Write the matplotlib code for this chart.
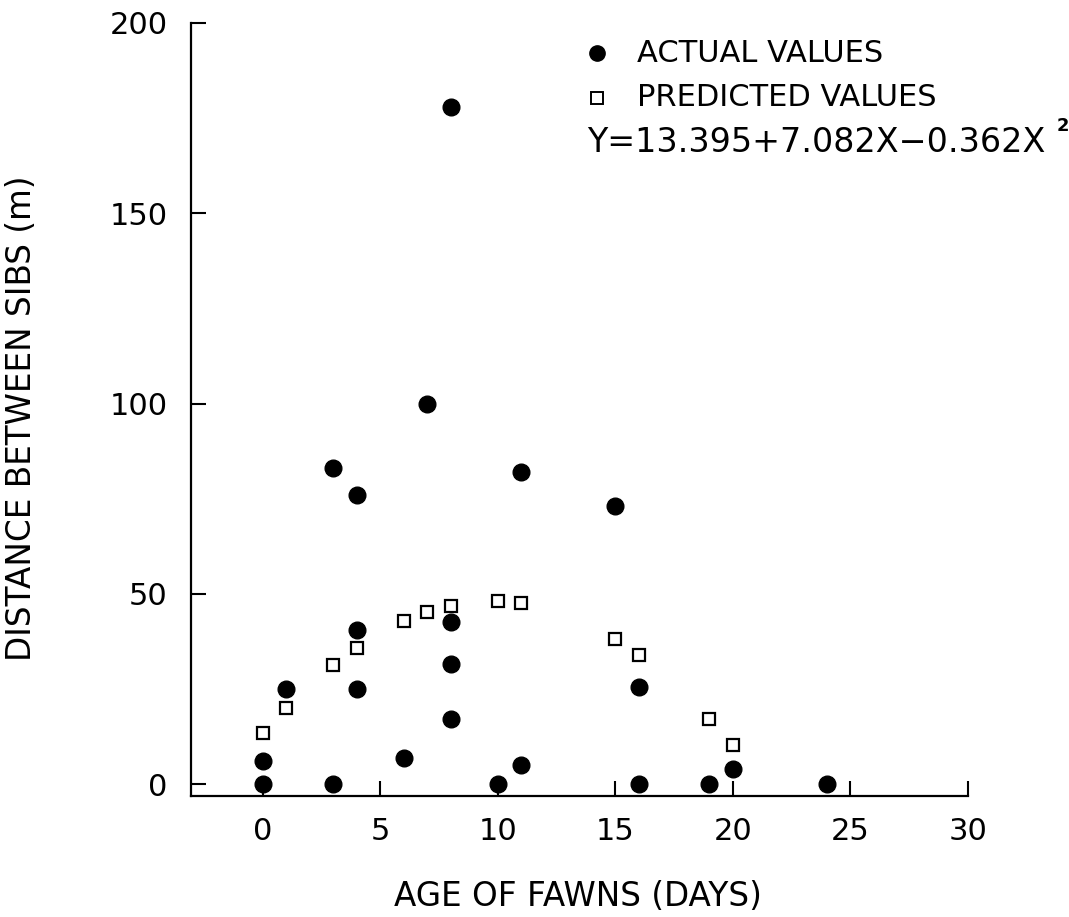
import matplotlib.pyplot as plt

# actual values (age in days, distance in m)
actual_age = [0, 0, 1, 3, 3, 4, 4, 4, 6, 7, 8, 8, 8, 8, 10, 11, 11, 15, 16, 16, 19, 20, 24]
actual_dist = [0, 6, 25, 83, 0, 76, 40.5, 25, 7, 100, 178, 42.5, 31.5, 17, 0, 82, 5, 73, 25.5, 0, 0, 4, 0]

# predicted values
pred_age = [0, 1, 3, 4, 6, 7, 8, 10, 11, 15, 16, 19, 20]
pred_dist = [13.4, 20.1, 31.4, 35.9, 42.9, 45.2, 46.9, 48.0, 47.5, 38.2, 34.0, 17.2, 10.2]

x_ticks = [0, 5, 10, 15, 20, 25, 30]
y_ticks = [0, 50, 100, 150, 200]

plt.rcParams['font.family'] = 'DejaVu Sans'

fig = plt.figure(figsize=(10.69, 9.17), dpi=100)
ax = fig.add_axes([0.1787, 0.132, 0.7268, 0.843])

ax.plot(actual_age, actual_dist, 'o', color='black', markersize=12, zorder=3)
ax.plot(pred_age, pred_dist, 's', markerfacecolor='white', markeredgecolor='black',
        markersize=9, markeredgewidth=1.6, zorder=2)

ax.set_xlim(-3.05, 30)
ax.set_ylim(-3.1, 200)
ax.set_xticks(x_ticks)
ax.set_yticks(y_ticks)
ax.tick_params(direction='in', length=11, width=1.5, labelsize=22, pad=17)
ax.tick_params(axis='x', pad=15)

for side in ['top', 'right']:
    ax.spines[side].set_visible(False)
for side in ['left', 'bottom']:
    ax.spines[side].set_linewidth(1.6)

fig.text(22 / 1069, 1 - 418 / 917, 'DISTANCE BETWEEN SIBS (m)', rotation=90,
         ha='center', va='center', fontsize=23.5)
fig.text(578 / 1069, 1 - 896 / 917, 'AGE OF FAWNS (DAYS)',
         ha='center', va='center', fontsize=23.5)

# legend block
fig.lines.append(plt.Line2D([597 / 1069], [1 - 53 / 917], marker='o', color='black',
                            markersize=11, transform=fig.transFigure, linestyle='none'))
fig.lines.append(plt.Line2D([597 / 1069], [1 - 98 / 917], marker='s', markerfacecolor='white',
                            markeredgecolor='black', markersize=8, markeredgewidth=1.4,
                            transform=fig.transFigure, linestyle='none'))
fig.text(637 / 1069, 1 - 54 / 917, 'ACTUAL VALUES', ha='left', va='center', fontsize=22)
fig.text(637 / 1069, 1 - 98 / 917, 'PREDICTED VALUES', ha='left', va='center', fontsize=22)
fig.text(587 / 1069, 1 - 143 / 917, 'Y=13.395+7.082X\u22120.362X', ha='left', va='center', fontsize=24)
fig.text(1063 / 1069, 1 - 126 / 917, '2', ha='center', va='center', fontsize=13, fontweight='bold')

fig.savefig('out.png', dpi=100)
